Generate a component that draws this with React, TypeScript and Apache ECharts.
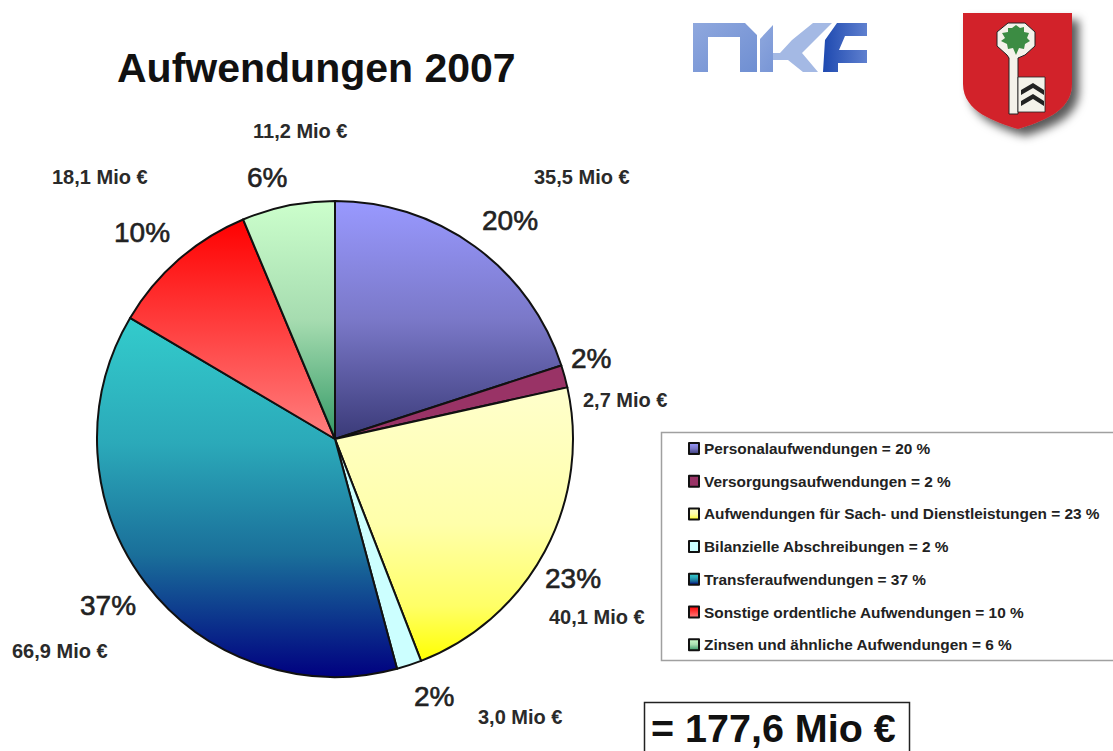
import React, { useEffect, useRef } from "react";
import * as echarts from "echarts";

const categories = [
  "Personalaufwendungen",
  "Versorgungsaufwendungen",
  "Aufwendungen für Sach- und Dienstleistungen",
  "Bilanzielle Abschreibungen",
  "Transferaufwendungen",
  "Sonstige ordentliche Aufwendungen",
  "Zinsen und ähnliche Aufwendungen",
];
const millions = [35.5, 2.7, 40.1, 3.0, 66.9, 18.1, 11.2];
const percents = [20, 2, 23, 2, 37, 10, 6];
const totalLabel = "= 177,6 Mio €";
const titleText = "Aufwendungen 2007";

const gradients: [number, string][][] = [
  [[0, "#9999ff"], [0.5, "#7a78c8"], [1, "#3a3a78"]],
  [[0, "#993366"], [1, "#993366"]],
  [[0, "#ffffcc"], [0.5, "#ffffaa"], [0.8, "#ffff66"], [1, "#ffff00"]],
  [[0, "#ccffff"], [1, "#ccffff"]],
  [[0, "#33cccc"], [0.35, "#2ba9b9"], [0.66, "#1a6f9a"], [1, "#000080"]],
  [[0, "#ff0000"], [1, "#ff8080"]],
  [[0, "#ccffcc"], [0.5, "#a6dcb0"], [1, "#339966"]],
];
const percentPos = [[482, 220], [571, 358], [545, 578], [414, 696], [80, 605], [114, 232], [247, 177]];
const millionPos = [[534, 177], [583, 400], [549, 617], [478, 717], [12, 651], [52, 177], [253, 131]];

const FONT = "'Liberation Sans', Arial, sans-serif";
const fmt = (v: number) => v.toFixed(1).replace(".", ",") + " Mio €";

const shapes: Record<string, string> = {
  nkfN: "M693 23 L745 23 L757 35 L757 72 L740 72 L740 37 L708 37 L708 72 L693 72 Z",
  nkfK1: "M760 39 L773 25 L773 53 L790 53 L773 60 L773 72 L760 72 Z",
  nkfK2: "M792 40 L813 23 L832 23 L802 53 L818 72 L803 72 L788 60 L773 60 L773 53 L780 53 Z",
  nkfF: "M823 72 L825 40 L837 23 L867 23 L867 36 L845 36 L839 50 L867 50 L867 63 L838 63 L838 72 Z",
  shield: "M963 13 L1072 13 L1072 84 C1072 112 1040 122 1018 129 C996 122 963 112 963 84 Z",
  keyOuter: "M1008 23 L1025 23 L1035 32 L1035 46 L1025 55 L1018 58 L1018 114 L1009 114 L1009 58 L1007 55 L997 46 L997 32 Z",
  leaf: "M1016 25 L1020 28 L1024 27 L1024 32 L1029 33 L1027 38 L1030 41 L1025 44 L1024 49 L1019 48 L1016 55 L1013 48 L1008 49 L1007 44 L1001 41 L1005 38 L1002 33 L1008 32 L1008 28 L1012 28 Z",
  flag: "M1018 77 L1045 77 L1045 112 L1018 112 Z",
  chev1: "M1021 90 L1033 83 L1044 90 L1044 95 L1033 88 L1021 95 Z",
  chev2: "M1021 101 L1033 94 L1044 101 L1044 106 L1033 99 L1021 106 Z",
};
Object.entries(shapes).forEach(([k, d]) => {
  echarts.graphic.registerShape(k, echarts.graphic.extendPath(d as any, {}) as any);
});

const vgrad = (stops: [number, string][]) =>
  new echarts.graphic.LinearGradient(0, 0, 0, 1, stops.map(([offset, color]) => ({ offset, color })));

export default function App() {
  const ref = useRef<HTMLDivElement>(null);
  useEffect(() => {
    const chart = echarts.init(ref.current!, undefined, { renderer: "svg" });
    const nkfFill = () => new echarts.graphic.LinearGradient(0, 0, 1, 1, [
      { offset: 0, color: "#8fa8de" },
      { offset: 0.5, color: "#7f9bd8" },
      { offset: 1, color: "#6f8fd2" },
    ]);
    chart.setOption({
      animation: false,
      backgroundColor: "#ffffff",
      title: {
        text: titleText,
        left: 117,
        top: 47,
        padding: 0,
        textStyle: { fontFamily: FONT, fontSize: 41, fontWeight: "bold", color: "#111" },
      },
      legend: {
        orient: "vertical",
        left: 688,
        top: 441,
        padding: 0,
        itemWidth: 10,
        itemHeight: 11,
        itemGap: 17.7,
        icon: "rect",
        selectedMode: false,
        formatter: (name: string) => `${name} = ${percents[categories.indexOf(name)]} %`,
        textStyle: { fontFamily: FONT, fontSize: 15.4, fontWeight: "bold", color: "#222", lineHeight: 14, padding: 0 },
        data: categories,
      },
      series: [
        {
          type: "pie",
          silent: true,
          center: [335, 439],
          radius: [0, 238],
          startAngle: 90,
          clockwise: true,
          avoidLabelOverlap: false,
          itemStyle: { borderColor: "#111", borderWidth: 2 },
          label: {
            show: true,
            formatter: (p: any) => `${percents[p.dataIndex]}%`,
            fontFamily: FONT,
            fontSize: 28,
            color: "#222",
            textBorderColor: "#222",
            textBorderWidth: 0.6,
          },
          labelLine: { show: false },
          labelLayout: (p: any) => ({
            x: percentPos[p.dataIndex][0],
            y: percentPos[p.dataIndex][1],
            align: "left",
            verticalAlign: "middle",
          }),
          data: categories.map((name, i) => ({
            name,
            value: millions[i],
            itemStyle: { color: vgrad(gradients[i]) },
          })),
        },
      ],
      graphic: [
        ...millions.map((v, i) => ({
          type: "text",
          x: millionPos[i][0],
          y: millionPos[i][1],
          style: {
            text: fmt(v),
            fontFamily: FONT,
            fontSize: 20,
            fontWeight: "bold",
            fill: "#2a2a2a",
            verticalAlign: "middle",
          },
        })),
        { type: "rect", z: -1, shape: { x: 661.5, y: 432.5, width: 470, height: 228 }, style: { fill: "#fff", stroke: "#a0a0a0", lineWidth: 1.5 } },
        { type: "rect", shape: { x: 644.5, y: 702.5, width: 265, height: 60 }, style: { fill: "#fff", stroke: "#222", lineWidth: 1.5 } },
        {
          type: "text", x: 651, y: 728, z: 5,
          style: { text: totalLabel, fontFamily: FONT, fontSize: 39.5, fontWeight: "bold", fill: "#111", verticalAlign: "middle" },
        },
        { type: "nkfN", style: { fill: nkfFill() } },
        { type: "nkfK1", style: { fill: nkfFill() } },
        { type: "nkfK2", style: { fill: "#a4b9e4" } },
        { type: "nkfF", style: { fill: new echarts.graphic.LinearGradient(0, 0, 1, 0, [{ offset: 0, color: "#1e49b0" }, { offset: 1, color: "#5f80cf" }]) } },
        { type: "shield", style: { fill: "#d2232a", shadowBlur: 10, shadowColor: "rgba(0,0,0,0.65)", shadowOffsetX: 7, shadowOffsetY: 7 } },
        { type: "keyOuter", style: { fill: "#f4f2ea", stroke: "#222", lineWidth: 1 } },
        { type: "leaf", style: { fill: "#3c8c43" } },
        { type: "flag", style: { fill: "#f4f2ea", stroke: "#222", lineWidth: 0.8 } },
        { type: "chev1", style: { fill: "#222" } },
        { type: "chev2", style: { fill: "#222" } },
      ],
    });
    return () => chart.dispose();
  }, []);
  return <div ref={ref} style={{ position: "absolute", left: 0, top: 0, width: 1113, height: 751 }} />;
}
